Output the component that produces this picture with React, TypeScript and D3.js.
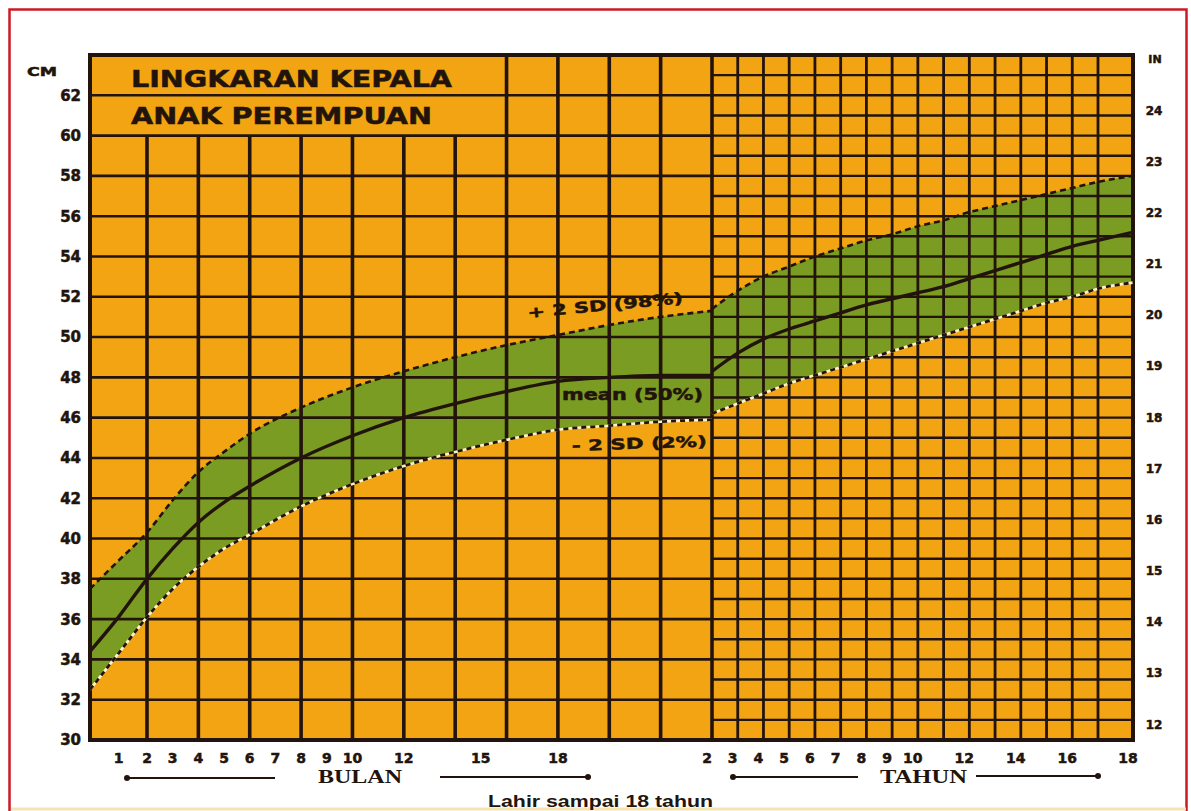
import React from 'react';
import * as d3 from 'd3';

// ---- axis ticks ----
const cmTicks = [30, 32, 34, 36, 38, 40, 42, 44, 46, 48, 50, 52, 54, 56, 58, 60, 62];
const inchTicks = [12, 13, 14, 15, 16, 17, 18, 19, 20, 21, 22, 23, 24];
const monthTickLabels = [1, 2, 3, 4, 5, 6, 7, 8, 9, 10, 12, 15, 18];
const yearTickLabels = [2, 3, 4, 5, 6, 7, 8, 9, 10, 12, 14, 16, 18];

// ---- months section (0-24 months) ----
const monthAges = [0, 1, 2, 3, 4, 5, 6, 8, 10, 12, 14, 16, 18, 20, 22, 24];
const monthMean = [34.4, 36.1, 38.0, 39.5, 40.8, 41.8, 42.6, 44.0, 45.1, 46.0, 46.7, 47.3, 47.8, 48.0, 48.1, 48.1];
const monthPlus2 = [37.5, 38.9, 40.3, 41.9, 43.3, 44.3, 45.2, 46.5, 47.5, 48.3, 49.0, 49.6, 50.1, 50.6, 51.0, 51.3];
const monthMinus2 = [32.5, 34.3, 36.1, 37.5, 38.6, 39.5, 40.2, 41.6, 42.7, 43.6, 44.3, 44.9, 45.4, 45.6, 45.8, 45.9];

// ---- years section (2-18 years) ----
const yearAges = [2, 3, 4, 5, 6, 7, 8, 9, 10, 11, 12, 13, 14, 15, 16, 17, 18];
const yearMean = [48.3, 49.2, 49.9, 50.4, 50.8, 51.2, 51.6, 51.9, 52.2, 52.5, 52.9, 53.3, 53.7, 54.1, 54.5, 54.8, 55.2];
const yearPlus2 = [51.4, 52.3, 53.0, 53.5, 54.0, 54.4, 54.8, 55.1, 55.5, 55.8, 56.2, 56.5, 56.8, 57.1, 57.4, 57.7, 58.0];
const yearMinus2 = [46.2, 46.7, 47.2, 47.7, 48.1, 48.5, 48.9, 49.3, 49.7, 50.1, 50.5, 50.9, 51.3, 51.7, 52.0, 52.4, 52.7];

const ORANGE = '#F2A412';
const GREEN = '#7A9C22';
const INK = '#22140c';
const RED = '#cc1a24';

export default function App() {
  const W = 1191, H = 811;
  const left = 90, split = 712, right = 1133, top = 55, bottom = 740;

  const y = d3.scaleLinear().domain([30, 64]).range([bottom, top]);
  const yIn = d3.scaleLinear().domain([30 / 2.54, 64 / 2.54]).range([bottom, top]);
  const xM = d3.scaleLinear().domain([0, 2, 24]).range([left, 147, split]);
  const xY = d3.scaleLinear().domain([2, 17, 18]).range([split, 1098, right]);

  type P = { a: number; v: number };
  const mMean: P[] = monthAges.map((a, i) => ({ a, v: monthMean[i] }));
  const mP2: P[] = monthAges.map((a, i) => ({ a, v: monthPlus2[i] }));
  const mM2: P[] = monthAges.map((a, i) => ({ a, v: monthMinus2[i] }));
  const mBand = monthAges.map((a, i) => ({ a, lo: monthMinus2[i], hi: monthPlus2[i] }));
  const yMean: P[] = yearAges.map((a, i) => ({ a, v: yearMean[i] }));
  const yP2: P[] = yearAges.map((a, i) => ({ a, v: yearPlus2[i] }));
  const yM2: P[] = yearAges.map((a, i) => ({ a, v: yearMinus2[i] }));
  const yBand = yearAges.map((a, i) => ({ a, lo: yearMinus2[i], hi: yearPlus2[i] }));

  const lineM = d3.line<P>().x(d => xM(d.a)).y(d => y(d.v)).curve(d3.curveMonotoneX);
  const lineY = d3.line<P>().x(d => xY(d.a)).y(d => y(d.v)).curve(d3.curveMonotoneX);
  const areaM = d3.area<any>().x(d => xM(d.a)).y0(d => y(d.lo)).y1(d => y(d.hi)).curve(d3.curveMonotoneX);
  const areaY = d3.area<any>().x(d => xY(d.a)).y0(d => y(d.lo)).y1(d => y(d.hi)).curve(d3.curveMonotoneX);

  const monthGrid = d3.range(2, 24, 2);
  const monthHGrid = d3.range(32, 64, 2);
  const yearGrid = d3.range(3, 18, 1);
  const yearHGrid = d3.range(31, 64, 1);

  const font = "'DejaVu Sans', sans-serif";
  const serif = "'Liberation Serif', 'DejaVu Serif', serif";
  const heavy = { stroke: INK, strokeWidth: 0.5 } as any;

  return (
    <svg width={W} height={H} style={{ position: 'absolute', left: 0, top: 0, background: '#fff' }}>
      <defs>
        <clipPath id="plotClip">
          <rect x={left} y={top} width={right - left} height={bottom - top} />
        </clipPath>
        <marker id="dot" viewBox="0 0 10 10" refX="5" refY="5" markerWidth="3" markerHeight="3">
          <circle cx="5" cy="5" r="5" fill={INK} />
        </marker>
      </defs>
      {/* page frame */}
      <rect x={0} y={0} width={W} height={H} fill="#fff" />
      <rect x={9.5} y={9.5} width={1177} height={840} fill="none" stroke={RED} strokeWidth={2.5} />
      <line x1={11} x2={1186} y1={809} y2={809} stroke="#f6e3b0" strokeWidth={3} />

      {/* plot background */}
      <rect x={left} y={top} width={right - left} height={bottom - top} fill={ORANGE} />

      {/* green bands */}
      <g clipPath="url(#plotClip)">
        <path d={areaM(mBand) || ''} fill={GREEN} />
        <path d={areaY(yBand) || ''} fill={GREEN} />
      </g>

      {/* month grid */}
      {monthHGrid.map(v => (
        <line key={'mh' + v} x1={left} x2={split} y1={y(v)} y2={y(v)} stroke={INK} strokeWidth={2.6} />
      ))}
      {monthGrid.map(m => (
        <line key={'mv' + m} x1={xM(m)} x2={xM(m)} y1={m >= 16 ? top : y(60)} y2={bottom} stroke={INK} strokeWidth={3.6} />
      ))}
      {/* year grid */}
      {yearHGrid.map(v => (
        <line key={'yh' + v} x1={split} x2={right} y1={y(v)} y2={y(v)} stroke={INK} strokeWidth={2.4} />
      ))}
      {yearGrid.map(a => (
        <line key={'yv' + a} x1={xY(a)} x2={xY(a)} y1={top} y2={bottom} stroke={INK} strokeWidth={2.8} />
      ))}
      <line x1={split} x2={split} y1={top} y2={bottom} stroke={INK} strokeWidth={3.6} />
      <rect x={left} y={top} width={right - left} height={bottom - top} fill="none" stroke={INK} strokeWidth={4} />

      {/* curves */}
      <g clipPath="url(#plotClip)" fill="none">
        <path d={lineM(mP2) || ''} stroke={INK} strokeWidth={2.6} strokeDasharray="6,4" />
        <path d={lineY(yP2) || ''} stroke={INK} strokeWidth={2.6} strokeDasharray="6,4" />
        <path d={lineM(mM2) || ''} stroke="#fbf3c8" strokeWidth={2.6} />
        <path d={lineM(mM2) || ''} stroke={INK} strokeWidth={2.8} strokeDasharray="5,4" />
        <path d={lineY(yM2) || ''} stroke="#fbf3c8" strokeWidth={2.6} />
        <path d={lineY(yM2) || ''} stroke={INK} strokeWidth={2.8} strokeDasharray="5,4" />
        <path d={lineM(mMean) || ''} stroke={INK} strokeWidth={3.4} />
        <path d={lineY(yMean) || ''} stroke={INK} strokeWidth={3.4} />
      </g>

      {/* title */}
      <text x={131} y={87} fontFamily={font} fontWeight="bold" fontSize={23} fill={INK} {...heavy}
        textLength={321} lengthAdjust="spacingAndGlyphs">LINGKARAN KEPALA</text>
      <text x={131} y={124} fontFamily={font} fontWeight="bold" fontSize={23} fill={INK} {...heavy}
        textLength={301} lengthAdjust="spacingAndGlyphs">ANAK PEREMPUAN</text>

      {/* curve annotations */}
      <text x={528} y={318} transform="rotate(-5.5 528 318)" fontFamily={font} fontWeight="bold" fontSize={15} fill={INK} {...heavy}
        textLength={156} lengthAdjust="spacingAndGlyphs">+ 2 SD (98%)</text>
      <text x={562} y={400} fontFamily={font} fontWeight="bold" fontSize={15} fill={INK} {...heavy}
        textLength={141} lengthAdjust="spacingAndGlyphs">mean (50%)</text>
      <text x={572} y={451} transform="rotate(-2 572 451)" fontFamily={font} fontWeight="bold" fontSize={15} fill={INK} {...heavy}
        textLength={135} lengthAdjust="spacingAndGlyphs">- 2 SD (2%)</text>

      {/* left axis */}
      <text x={42} y={76} textAnchor="middle" fontFamily={font} fontWeight="bold" fontSize={12} fill={INK} {...heavy}
        textLength={30} lengthAdjust="spacingAndGlyphs">CM</text>
      {cmTicks.map(v => (
        <text key={'cm' + v} x={81} y={y(v)} dy="0.36em" textAnchor="end" fontFamily={font} fontWeight="bold"
          fontSize={15} fill={INK} {...heavy}>{v}</text>
      ))}

      {/* right axis */}
      <text x={1155} y={63} textAnchor="middle" fontFamily={font} fontWeight="bold" fontSize={11} fill={INK} {...heavy}>IN</text>
      {inchTicks.map(v => (
        <text key={'in' + v} x={1154} y={yIn(v) - 6} dy="0.36em" textAnchor="middle" fontFamily={font} fontWeight="bold"
          fontSize={12} fill={INK} {...heavy}>{v}</text>
      ))}

      {/* bottom ticks */}
      {monthTickLabels.map(m => (
        <text key={'ml' + m} x={xM(m)} y={763} textAnchor="middle" fontFamily={font} fontWeight="bold"
          fontSize={14} fill={INK} {...heavy}>{m}</text>
      ))}
      {yearTickLabels.map(a => (
        <text key={'yl' + a} x={xY(a) - 5} y={763} textAnchor="middle" fontFamily={font} fontWeight="bold"
          fontSize={14} fill={INK} {...heavy}>{a}</text>
      ))}

      {/* period arrows */}
      <g stroke={INK} strokeWidth={2}>
        <line x1={127} x2={275} y1={778} y2={778} markerStart="url(#dot)" />
        <line x1={440} x2={588} y1={777} y2={777} markerEnd="url(#dot)" />
        <line x1={733} x2={858} y1={777} y2={777} markerStart="url(#dot)" />
        <line x1={976} x2={1098} y1={776} y2={776} markerEnd="url(#dot)" />
      </g>
      <text x={318} y={783} fontFamily={serif} fontWeight="bold" fontSize={19} fill={INK}
        textLength={84} lengthAdjust="spacingAndGlyphs">BULAN</text>
      <text x={880} y={783} fontFamily={serif} fontWeight="bold" fontSize={19} fill={INK}
        textLength={87} lengthAdjust="spacingAndGlyphs">TAHUN</text>
      <text x={488} y={807} fontFamily="'Liberation Sans', Arial, sans-serif" fontWeight="bold" fontSize={16} fill={INK}
        textLength={225} lengthAdjust="spacingAndGlyphs">Lahir sampai 18 tahun</text>
    </svg>
  );
}
